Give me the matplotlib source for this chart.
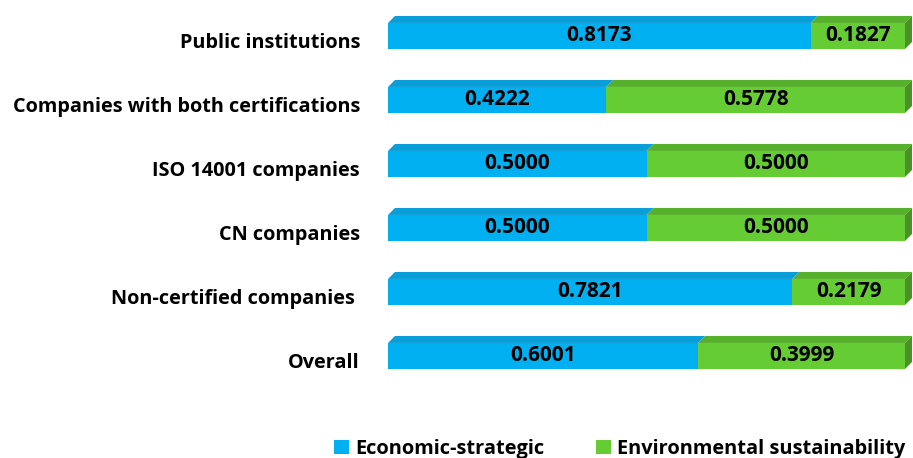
import matplotlib.pyplot as plt
from matplotlib.patches import Polygon, Patch

# data (bottom to top)
categories = ["Overall", "Non-certified companies ", "CN companies",
              "ISO 14001 companies", "Companies with both certifications",
              "Public institutions"]
econ = [0.6001, 0.7821, 0.5000, 0.5000, 0.4222, 0.8173]
envi = [0.3999, 0.2179, 0.5000, 0.5000, 0.5778, 0.1827]
series_names = ["Economic-strategic", "Environmental sustainability"]

blue, blue_top = "#00B0F0", "#0A9ED8"
green, green_top, green_side = "#66CC33", "#57B02B", "#4C9127"

plt.rcParams['font.family'] = ['Open Sans', 'DejaVu Sans']

fig = plt.figure(figsize=(9.13, 4.58), dpi=100)
ax = fig.add_axes([388 / 913, 58 / 458, 525 / 913, 400 / 458])
ax.set_xlim(0, 525 / 517)
ax.set_ylim(5.64 - 6.25, 5.64)
ax.axis("off")

h = 26 / 64      # bar thickness
dx = 7 / 517     # depth, x
dy = 7 / 64      # depth, y
shift = 5 / 64   # bars sit a bit above the label line

for i, cat in enumerate(categories):
    yc = i + shift
    yb, yt = yc - h / 2, yc + h / 2
    e, g = econ[i], envi[i]
    ax.barh(yc, e, height=h, left=0, color=blue, linewidth=0)
    ax.barh(yc, g, height=h, left=e, color=green, linewidth=0)
    # top faces
    ax.add_patch(Polygon([(0, yt), (e, yt), (e + dx, yt + dy), (dx, yt + dy)],
                         closed=True, facecolor=blue_top, edgecolor="none"))
    ax.add_patch(Polygon([(e, yt), (e + g, yt), (e + g + dx, yt + dy), (e + dx, yt + dy)],
                         closed=True, facecolor=green_top, edgecolor="none"))
    # right side face
    x1 = e + g
    ax.add_patch(Polygon([(x1, yb), (x1, yt), (x1 + dx, yt + dy), (x1 + dx, yb + dy)],
                         closed=True, facecolor=green_side, edgecolor="none"))
    # values
    ax.text(e / 2, yc, f"{e:.4f}", ha="center", va="center",
            fontsize=15, fontweight="bold", color="black")
    ax.text(e + g / 2, yc, f"{g:.4f}", ha="center", va="center",
            fontsize=15, fontweight="bold", color="black")
    # category label
    ax.text(-28 / 517, i - 2 / 64, cat, ha="right", va="center",
            fontsize=14.3, fontweight="bold", color="black")

handles = [Patch(facecolor=blue, label=series_names[0]),
           Patch(facecolor=green, label=series_names[1])]
fig.legend(handles=handles, loc="center", bbox_to_anchor=(620 / 913, 9 / 458),
           ncol=2, frameon=False, handlelength=0.75, handleheight=0.75,
           handletextpad=0.3, columnspacing=2.6,
           prop={"weight": "bold", "size": 14.4})

fig.savefig("out.png", dpi=100)
